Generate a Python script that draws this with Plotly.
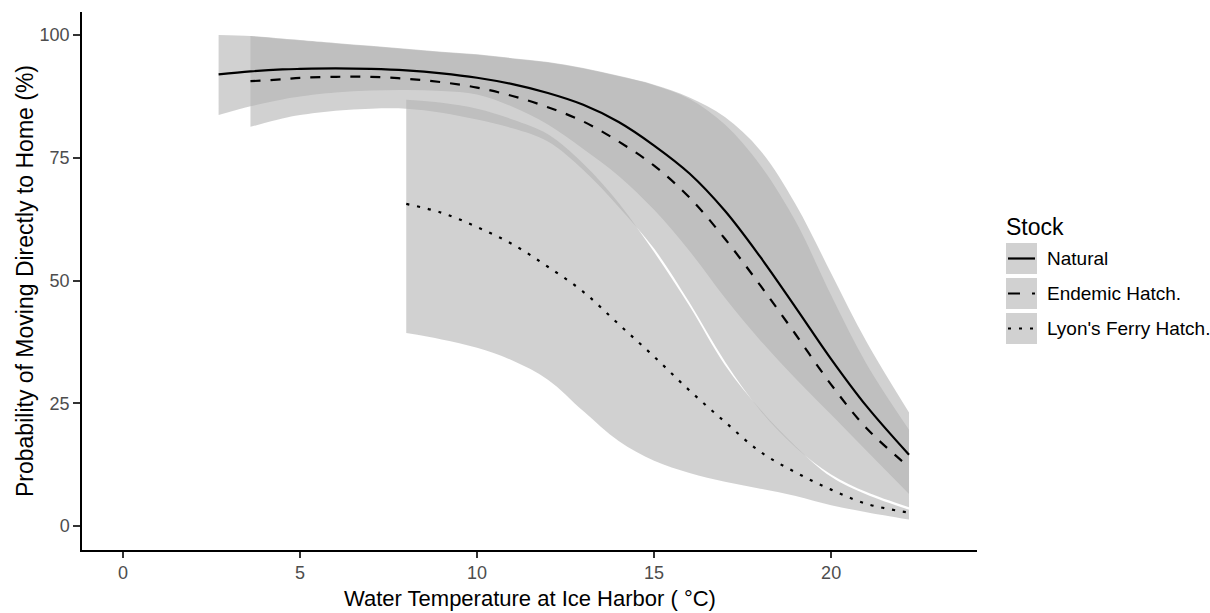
import plotly.graph_objects as go

# ---------------- data ----------------
stocks = ["Natural", "Endemic Hatch.", "Lyon's Ferry Hatch."]

nat_x = [2.7, 3.6, 4.5, 5, 6, 7, 8, 9, 10, 11, 12, 13, 14, 15, 16, 17, 18, 19, 20, 21, 22.2]
nat_fit = [92.0, 92.6, 93.0, 93.1, 93.2, 93.1, 92.8, 92.2, 91.3, 90.0, 88.2, 85.8, 82.3, 77.5, 71.8, 64.2, 54.8, 44.5, 34.0, 24.4, 14.5]
nat_upper = [100.0, 99.8, 99.3, 99.0, 98.4, 97.8, 97.2, 96.6, 96.1, 95.3, 94.5, 93.3, 91.7, 89.9, 87.3, 83.3, 76.5, 65.5, 51.5, 37.5, 23.1]
nat_lower = [83.7, 85.5, 86.9, 87.5, 88.3, 88.7, 88.8, 88.6, 87.9, 85.4, 81.8, 76.8, 71.3, 64.4, 56.0, 46.5, 37.8, 30.0, 22.7, 15.3, 6.5]

end_x = [3.6, 4.5, 5, 6, 7, 8, 9, 10, 11, 12, 13, 14, 15, 16, 17, 18, 19, 20, 21, 22.2]
end_fit = [90.6, 91.0, 91.3, 91.5, 91.5, 91.1, 90.4, 89.3, 87.6, 85.3, 82.4, 78.3, 73.4, 66.9, 58.5, 49.0, 39.0, 28.8, 19.9, 12.0]
end_upper = [99.8, 99.2, 98.9, 98.3, 97.7, 97.1, 96.5, 96.0, 95.2, 94.4, 93.2, 91.6, 89.8, 87.0, 81.8, 73.5, 62.0, 47.0, 33.0, 19.6]
end_lower = [81.3, 83.0, 83.7, 84.6, 85.0, 85.0, 84.2, 82.8, 81.0, 78.3, 72.5, 65.0, 56.5, 45.5, 33.5, 23.5, 16.0, 10.5, 6.9, 3.8]

lyo_x = [8, 9, 10, 11, 12, 13, 14, 15, 16, 17, 18, 19, 20, 21, 22.2]
lyo_fit = [65.6, 63.8, 60.9, 57.4, 52.8, 47.7, 41.1, 34.5, 27.6, 21.2, 15.1, 10.9, 7.4, 4.5, 2.7]
lyo_upper = [86.8, 86.2, 85.0, 82.8, 79.8, 73.8, 65.8, 55.8, 44.8, 32.8, 23.7, 16.2, 10.0, 6.4, 3.3]
lyo_lower = [39.3, 38.0, 36.3, 33.7, 29.8, 23.4, 17.3, 13.3, 10.8, 9.0, 7.6, 6.1, 4.2, 2.8, 1.3]

x_ticks = [0, 5, 10, 15, 20]
y_ticks = [0, 25, 50, 75, 100]

# ---------------- styling ----------------
FONT = "Arial, Liberation Sans, sans-serif"
FILL = "rgba(179,179,179,0.6)"
DASHES = ["solid", "10px,10px", "3px,8px"]
KEY_DASHES = ["solid", "12px,12px", "3px,8px"]
LW = 2.2
SMOOTH = 1.0

# plot panel in pixels
L, R, T, B = 82, 977, 12, 550
W, H = 1210, 613


def px(xp):
    return (xp - L) / (R - L)


def py(yp):
    return (B - yp) / (B - T)


fig = go.Figure()

series = [
    (nat_x, nat_fit, nat_lower, nat_upper),
    (end_x, end_fit, end_lower, end_upper),
    (lyo_x, lyo_fit, lyo_lower, lyo_upper),
]

for xs, fit, lo, hi in series:
    fig.add_trace(go.Scatter(x=xs, y=lo, mode="lines",
                             line=dict(width=0, shape="spline", smoothing=SMOOTH),
                             showlegend=False, hoverinfo="skip"))
    fig.add_trace(go.Scatter(x=xs, y=hi, mode="lines",
                             line=dict(width=0, shape="spline", smoothing=SMOOTH),
                             fill="tonexty", fillcolor=FILL,
                             showlegend=False, hoverinfo="skip"))

for (xs, fit, lo, hi), name, dash in zip(series, stocks, DASHES):
    fig.add_trace(go.Scatter(x=xs, y=fit, mode="lines", name=name,
                             line=dict(color="black", width=LW, dash=dash,
                                       shape="spline", smoothing=SMOOTH),
                             showlegend=False))

# ---------------- manual ggplot-style legend ----------------
shapes = []
annotations = []
annotations.append(dict(x=px(1004), y=py(227), xref="paper", yref="paper",
                        text="Stock", showarrow=False, xanchor="left", yanchor="middle",
                        font=dict(family=FONT, size=23, color="black")))
for i, (name, dash) in enumerate(zip(stocks, KEY_DASHES)):
    top = 243 + i * 35
    bot = top + 31
    mid = (top + bot) / 2
    shapes.append(dict(type="rect", xref="paper", yref="paper",
                       x0=px(1006), x1=px(1037), y0=py(bot), y1=py(top),
                       fillcolor=FILL, line=dict(width=0), layer="above"))
    shapes.append(dict(type="line", xref="paper", yref="paper",
                       x0=px(1008), x1=px(1035), y0=py(mid), y1=py(mid),
                       line=dict(color="black", width=LW, dash=dash), layer="above"))
    annotations.append(dict(x=px(1045), y=py(mid), xref="paper", yref="paper",
                            text=name, showarrow=False, xanchor="left", yanchor="middle",
                            font=dict(family=FONT, size=19, color="black")))

# axis titles
annotations.append(dict(x=0.5, y=py(598), xref="paper", yref="paper",
                        text="Water Temperature at Ice Harbor ( °C)", showarrow=False,
                        xanchor="center", yanchor="middle",
                        font=dict(family=FONT, size=22, color="black")))
annotations.append(dict(x=px(25), y=py(281), xref="paper", yref="paper",
                        text="Probability of Moving Directly to Home (%)", showarrow=False,
                        textangle=-90, xanchor="center", yanchor="middle",
                        font=dict(family=FONT, size=23, color="black")))

fig.update_layout(
    width=W, height=H,
    margin=dict(l=L, r=W - R, t=T, b=H - B, pad=0),
    paper_bgcolor="white", plot_bgcolor="white",
    showlegend=False,
    shapes=shapes, annotations=annotations,
    xaxis=dict(range=[-1.158, 24.12], tickvals=x_ticks, ticktext=[str(v) for v in x_ticks],
               showgrid=False, zeroline=False, showline=True, linecolor="black", linewidth=1.5,
               ticks="outside", ticklen=6, tickwidth=1.5, tickcolor="#333333",
               tickfont=dict(family=FONT, size=18, color="#4D4D4D")),
    yaxis=dict(range=[-4.9, 104.7], tickvals=y_ticks, ticktext=[str(v) for v in y_ticks],
               showgrid=False, zeroline=False, showline=True, linecolor="black", linewidth=1.5,
               ticks="outside", ticklen=7, tickwidth=1.5, tickcolor="#333333",
               tickfont=dict(family=FONT, size=18, color="#4D4D4D")),
)

fig.write_html("out.html")
